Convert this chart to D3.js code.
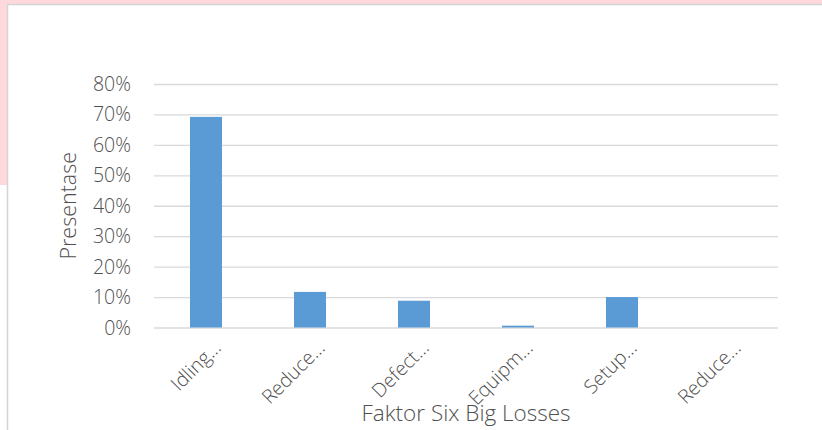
<!DOCTYPE html>
<html>
<head>
<meta charset="utf-8">
<script src="https://cdn.jsdelivr.net/npm/d3@7"></script>
<style>
  body { margin: 0; background: #fff; }
  svg { display: block; font-family: "Open Sans", sans-serif; }
  .grid line { stroke: #d9d9d9; stroke-width: 1.3; }
  .grid .domain { display: none; }
  .tick-label, .axis-title { fill: #4f4f4f; font-weight: 300; }
</style>
</head>
<body>
<div id="chart"></div>
<script>
// data
var categories = ["Idling…", "Reduce…", "Defect…", "Equipm…", "Setup…", "Reduce…"];
var values = [0.692, 0.117, 0.088, 0.006, 0.100, 0];
var yTicks = [0, 0.1, 0.2, 0.3, 0.4, 0.5, 0.6, 0.7, 0.8];

var width = 822, height = 430;
var plot = {left: 154, right: 778, top: 84, bottom: 327.5};

var svg = d3.select("#chart").append("svg")
    .attr("width", width)
    .attr("height", height);

// page leftovers around the chart box
svg.append("rect").attr("x", 0).attr("y", 0).attr("width", width).attr("height", 4).attr("fill", "#ffd8db");
svg.append("rect").attr("x", 0).attr("y", 0).attr("width", 7).attr("height", 185).attr("fill", "#ffd8db");
svg.append("line").attr("x1", 7).attr("x2", width).attr("y1", 4.5).attr("y2", 4.5).attr("stroke", "#d4d4d4").attr("stroke-width", 1.5);
svg.append("line").attr("x1", 7.5).attr("x2", 7.5).attr("y1", 4).attr("y2", height).attr("stroke", "#d4d4d4").attr("stroke-width", 1.5);

var x = d3.scaleBand()
  .domain(d3.range(categories.length))
  .range([plot.left, plot.right])
  .paddingInner(0.692)
  .paddingOuter(0.346);

var y = d3.scaleLinear()
  .domain([0, 0.8])
  .range([plot.bottom, plot.top]);

// gridlines
svg.append("g")
    .attr("class", "grid")
    .attr("transform", "translate(" + plot.left + ",0)")
    .call(d3.axisRight(y).tickValues(yTicks).tickSize(plot.right - plot.left).tickFormat(""));

// y tick labels
svg.selectAll(".y-label")
    .data(yTicks)
  .enter().append("text")
    .attr("class", "tick-label y-label")
    .attr("x", 131)
    .attr("y", function(d){ return y(d); })
    .attr("dy", "0.36em")
    .attr("text-anchor", "end")
    .style("font-size", "19.5px")
    .text(d3.format(".0%"));

// bars
svg.selectAll(".bar")
    .data(values)
  .enter().append("rect")
    .attr("class", "bar")
    .attr("x", function(d, i){ return x(i); })
    .attr("width", x.bandwidth())
    .attr("y", function(d){ return y(d); })
    .attr("height", function(d){ return y(0) - y(d); })
    .attr("fill", "#5b9bd5");

// x tick labels, rotated
svg.selectAll(".x-label")
    .data(categories)
  .enter().append("text")
    .attr("class", "tick-label x-label")
    .attr("transform", function(d, i){
      return "translate(" + (x(i) + x.bandwidth() / 2 + 16) + ",349) rotate(-45)";
    })
    .attr("text-anchor", "end")
    .style("font-size", "19.5px")
    .text(function(d){ return d; });

// axis titles
svg.append("text")
    .attr("class", "axis-title")
    .attr("x", (plot.left + plot.right) / 2)
    .attr("y", 420.5)
    .attr("text-anchor", "middle")
    .style("font-size", "22.5px")
    .text("Faktor Six Big Losses");

svg.append("text")
    .attr("class", "axis-title")
    .attr("transform", "translate(76," + (plot.top + plot.bottom) / 2 + ") rotate(-90)")
    .attr("text-anchor", "middle")
    .style("font-size", "21.5px")
    .text("Presentase");
</script>
</body>
</html>
